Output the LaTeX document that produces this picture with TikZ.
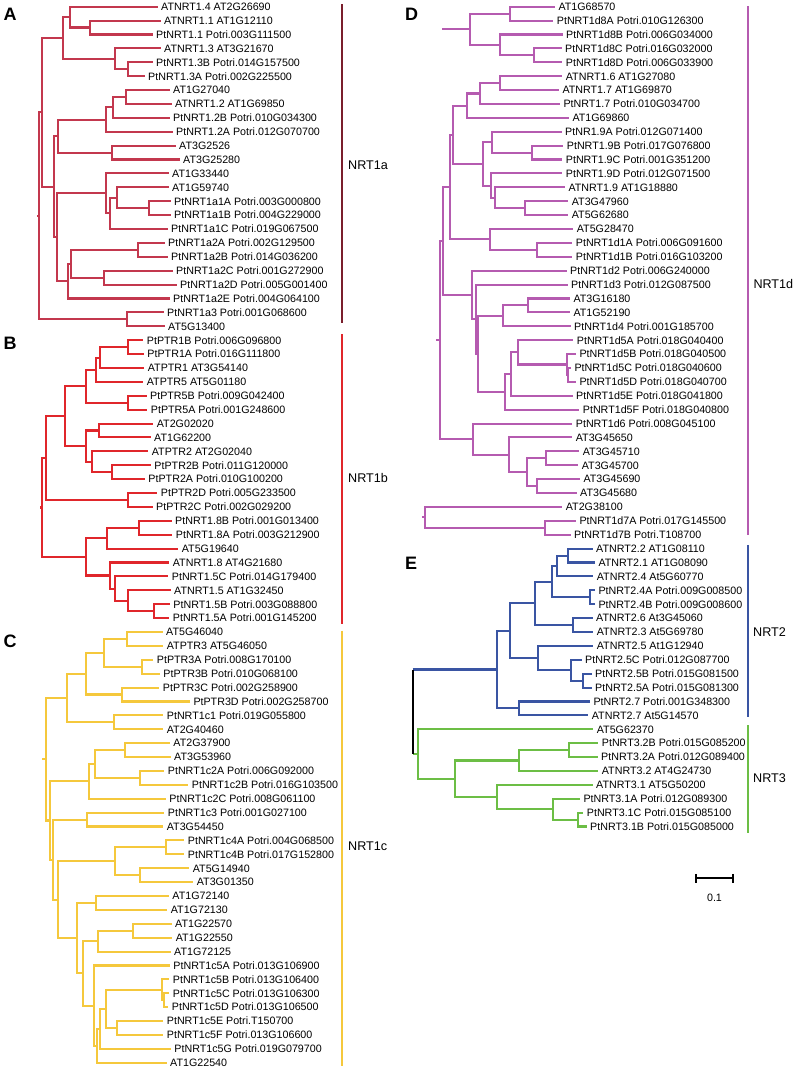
\documentclass[tikz,border=0pt]{standalone}
\usepackage{fontspec}
\setmainfont{Liberation Sans}
\usetikzlibrary{calc}
\definecolor{nrtA}{HTML}{C3384E}
\definecolor{nrtAbar}{HTML}{7A1E2C}
\definecolor{nrtB}{HTML}{E0262B}
\definecolor{nrtC}{HTML}{F5C83C}
\definecolor{nrtD}{HTML}{B55BB0}
\definecolor{nrtTwo}{HTML}{3A55A3}
\definecolor{nrtThree}{HTML}{6CBE45}
% clade: name, x, upper child, lower child
\newcommand\clade[4]{%
  \coordinate (#1) at ($(#3)!0.5!(#4)$);
  \coordinate (#1) at (#2,0 |- #1);
  \draw[branch] (#1) |- (#3) (#1) |- (#4);
}
\begin{document}
\begin{tikzpicture}[x=1bp, y=-13.895bp,
  leaf/.style={anchor=west, inner xsep=3.5bp, inner ysep=0pt, xshift=-3.5bp,
    text height=7.66bp, text depth=0pt, font=\fontsize{10.7bp}{12bp}\selectfont},
  panel/.style={anchor=west, inner sep=0pt, font=\fontsize{18bp}{20bp}\selectfont\bfseries},
  group/.style={anchor=west, inner sep=0pt, font=\fontsize{12.6bp}{14bp}\selectfont},
  bar/.style={line width=2.1bp},
  branch/.style={line width=2.1bp}]
\useasboundingbox (0,0.518) rectangle (797,77.524);

% === A: NRT1a ===
\node[panel] (pA) at (3.5,1.53) {A};
\foreach \px/\lbl [count=\i] in {161/ATNRT1.4 AT2G26690, 164/ATNRT1.1 AT1G12110,
  156/PtNRT1.1 Potri.003G111500, 164/ATNRT1.3 AT3G21670, 156/PtNRT1.3B Potri.014G157500,
  148/PtNRT1.3A Potri.002G225500, 173/AT1G27040, 175/ATNRT1.2 AT1G69850,
  173/PtNRT1.2B Potri.010G034300, 176/PtNRT1.2A Potri.012G070700, 179/AT3G2526,
  183/AT3G25280, 172/AT1G33440, 172/AT1G59740, 174/PtNRT1a1A Potri.003G000800,
  174/PtNRT1a1B Potri.004G229000, 171/PtNRT1a1C Potri.019G067500,
  168/PtNRT1a2A Potri.002G129500, 171/PtNRT1a2B Potri.014G036200,
  176/PtNRT1a2C Potri.001G272900, 180/PtNRT1a2D Potri.005G001400,
  173/PtNRT1a2E Potri.004G064100, 167/PtNRT1a3 Potri.001G068600, 168/AT5G13400}
  \node[leaf] (a\i) at (\px,\i) {\lbl};
\begin{scope}[branch/.style={draw=nrtA, line width=2.1bp}]
\clade{A23}{90}{a2}{a3}
\clade{A13}{70}{a1}{A23}
\clade{A56}{128}{a5}{a6}
\clade{A46}{115}{a4}{A56}
\clade{A16}{63}{A13}{A46}
\clade{A78}{126}{a7}{a8}
\clade{A79}{113}{A78}{a9}
\clade{A710}{106}{A79}{a10}
\clade{A1112}{112}{a11}{a12}
\clade{A712}{58.3}{A710}{A1112}
\clade{A1516}{149}{a15}{a16}
\clade{A1416}{116.7}{a14}{A1516}
\clade{A1417}{110}{A1416}{a17}
\clade{A1317}{106}{a13}{A1417}
\clade{A1819}{138}{a18}{a19}
\clade{A2021}{104}{a20}{a21}
\clade{A1821}{71}{A1819}{A2021}
\clade{A1822}{68}{A1821}{a22}
\clade{A1322}{56.7}{A1317}{A1822}
\clade{A722}{54.3}{A712}{A1322}
\clade{A122}{42}{A16}{A722}
\clade{A2324}{127}{a23}{a24}
\clade{A124}{39.3}{A122}{A2324}
\draw[branch] (A124) -- ++(-2,0);
\end{scope}
\draw[bar, nrtAbar] (341.7,0.806) -- (341.7,23.74);
\node[group] (gA) at (348,12.44) {NRT1a};

% === B: NRT1b ===
\node[panel] (pB) at (3.5,25.2) {B};
\foreach \px/\lbl [count=\i] in {146.7/PtPTR1B Potri.006G096800, 147.3/PtPTR1A Potri.016G111800,
  147.7/ATPTR1 AT3G54140, 146.7/ATPTR5 AT5G01180, 150/PtPTR5B Potri.009G042400,
  150.7/PtPTR5A Potri.001G248600, 156.7/AT2G02020, 154/AT1G62200,
  151.7/ATPTR2 AT2G02040, 154.3/PtPTR2B Potri.011G120000, 148.3/PtPTR2A Potri.010G100200,
  160.7/PtPTR2D Potri.005G233500, 156/PtPTR2C Potri.002G029200,
  175/PtNRT1.8B Potri.001G013400, 175.7/PtNRT1.8A Potri.003G212900, 181.7/AT5G19640,
  172.7/ATNRT1.8 AT4G21680, 171.7/PtNRT1.5C Potri.014G179400, 174/ATNRT1.5 AT1G32450,
  173.3/PtNRT1.5B Potri.003G088800, 172.7/PtNRT1.5A Potri.001G145200}
  \node[leaf] (b\i) at (\px,\i+24) {\lbl};
\begin{scope}[branch/.style={draw=nrtB, line width=2.1bp}]
\clade{B12}{127.7}{b1}{b2}
\clade{B13}{100}{B12}{b3}
\clade{B14}{95.7}{B13}{b4}
\clade{B56}{127.7}{b5}{b6}
\clade{B16}{86}{B14}{B56}
\clade{B78}{99}{b7}{b8}
\clade{B1011}{111.7}{b10}{b11}
\clade{B911}{92.3}{b9}{B1011}
\clade{B711}{86}{B78}{B911}
\clade{B111}{65}{B16}{B711}
\clade{B1213}{127.7}{b12}{b13}
\clade{B113}{46}{B111}{B1213}
\clade{B1415}{139.3}{b14}{b15}
\clade{B1416}{107.3}{B1415}{b16}
\clade{B2021}{154}{b20}{b21}
\clade{B1921}{128.3}{b19}{B2021}
\clade{B1821}{115}{b18}{B1921}
\clade{B1721}{110}{b17}{B1821}
\clade{B1421}{86}{B1416}{B1721}
\clade{B121}{41.7}{B113}{B1421}
\draw[branch] (B121) -- ++(-2,0);
\end{scope}
\draw[bar, nrtB] (341.7,24.58) -- (341.7,45.45);
\node[group] (gB) at (348,34.94) {NRT1b};

% === C: NRT1c ===
\node[panel] (pC) at (3.5,46.7) {C};
\foreach \px/\lbl [count=\i] in {166/AT5G46040, 166.7/ATPTR3 AT5G46050,
  156.7/PtPTR3A Potri.008G170100, 163.3/PtPTR3B Potri.010G068100,
  162.7/PtPTR3C Potri.002G258900, 193.3/PtPTR3D Potri.002G258700,
  166.7/PtNRT1c1 Potri.019G055800, 166.7/AT2G40460, 173.3/AT2G37900, 174/AT3G53960,
  167.7/PtNRT1c2A Potri.006G092000, 191.7/PtNRT1c2B Potri.016G103500,
  169.3/PtNRT1c2C Potri.008G061100, 167.7/PtNRT1c3 Potri.001G027100, 166.7/AT3G54450,
  187.7/PtNRT1c4A Potri.004G068500, 187.7/PtNRT1c4B Potri.017G152800,
  192.7/AT5G14940, 196.7/AT3G01350, 172.3/AT1G72140, 170.7/AT1G72130,
  175/AT1G22570, 175.7/AT1G22550, 174/AT1G72125, 173.3/PtNRT1c5A Potri.013G106900,
  172.7/PtNRT1c5B Potri.013G106400, 172.7/PtNRT1c5C Potri.013G106300,
  171.7/PtNRT1c5D Potri.013G106500, 166.7/PtNRT1c5E Potri.T150700,
  166.7/PtNRT1c5F Potri.013G106600, 174.3/PtNRT1c5G Potri.019G079700, 170/AT1G22540}
  \node[leaf] (c\i) at (\px,\i+45) {\lbl};
\begin{scope}[branch/.style={draw=nrtC, line width=2.1bp}]
\clade{C12}{126.7}{c1}{c2}
\clade{C34}{141.7}{c3}{c4}
\clade{C14}{104.3}{C12}{C34}
\clade{C56}{121.7}{c5}{c6}
\clade{C16}{86}{C14}{C56}
\clade{C78}{114.3}{c7}{c8}
\clade{C18}{66.7}{C16}{C78}
\clade{C910}{125}{c9}{c10}
\clade{C1112}{140}{c11}{c12}
\clade{C912}{95}{C910}{C1112}
\clade{C913}{89}{C912}{c13}
\clade{C1415}{86.7}{c14}{c15}
\clade{C1617}{165.7}{c16}{c17}
\clade{C1819}{140}{c18}{c19}
\clade{C1619}{115}{C1617}{C1819}
\clade{C2021}{96}{c20}{c21}
\clade{C2223}{133.3}{c22}{c23}
\clade{C2224}{98.3}{C2223}{c24}
\clade{C2728}{163.7}{c27}{c28}
\clade{C2628}{162.3}{c26}{C2728}
\clade{C2930}{117.3}{c29}{c30}
\clade{C2630}{106}{C2628}{C2930}
\clade{C2631}{100}{C2630}{c31}
\clade{C2632}{97.3}{C2631}{c32}
\clade{C2532}{94.3}{c25}{C2632}
\clade{C2232}{82.7}{C2224}{C2532}
\clade{C2032}{77.3}{C2021}{C2232}
\clade{C1632}{58.3}{C1619}{C2032}
\clade{C1432}{53.3}{C1415}{C1632}
\clade{C932}{50}{C913}{C1432}
\clade{C132}{46}{C18}{C932}
\draw[branch] (C132) -- ++(-4.3,0);
\end{scope}
\draw[bar, nrtC] (341.7,45.91) -- (341.7,77.2);
\node[group] (gC) at (348,61.45) {NRT1c};

% === D: NRT1d ===
\node[panel] (pD) at (405,1.56) {D};
\foreach \px/\lbl [count=\i] in {558.3/AT1G68570, 556.7/PtNRT1d8A Potri.010G126300,
  566/PtNRT1d8B Potri.006G034000, 565/PtNRT1d8C Potri.016G032000,
  565.7/PtNRT1d8D Potri.006G033900, 565.7/ATNRT1.6 AT1G27080, 562.3/ATNRT1.7 AT1G69870,
  563.3/PtNRT1.7 Potri.010G034700, 572.3/AT1G69860, 565/PtNR1.9A Potri.012G071400,
  566.7/PtNRT1.9B Potri.017G076800, 565.7/PtNRT1.9C Potri.001G351200,
  565.7/PtNRT1.9D Potri.012G071500, 568.3/ATNRT1.9 AT1G18880, 571.7/AT3G47960,
  571.7/AT5G62680, 576.7/AT5G28470, 575.7/PtNRT1d1A Potri.006G091600,
  575.7/PtNRT1d1B Potri.016G103200, 570/PtNRT1d2 Potri.006G240000,
  571/PtNRT1d3 Potri.012G087500, 573.3/AT3G16180, 573.3/AT1G52190,
  574/PtNRT1d4 Potri.001G185700, 576.7/PtNRT1d5A Potri.018G040400,
  579.3/PtNRT1d5B Potri.018G040500, 574.3/PtNRT1d5C Potri.018G040600,
  579.3/PtNRT1d5D Potri.018G040700, 576/PtNRT1d5E Potri.018G041800,
  582.7/PtNRT1d5F Potri.018G040800, 575.7/PtNRT1d6 Potri.008G045100,
  575.7/AT3G45650, 582.7/AT3G45710, 581.7/AT3G45700, 583.3/AT3G45690, 580/AT3G45680,
  565.7/AT2G38100, 579.3/PtNRT1d7A Potri.017G145500, 574/PtNRT1d7B Potri.T108700}
  \node[leaf] (d\i) at (\px,\i) {\lbl};
\begin{scope}[branch/.style={draw=nrtD, line width=2.1bp}]
\clade{D12}{510}{d1}{d2}
\clade{D45}{534}{d4}{d5}
\clade{D35}{500}{d3}{D45}
\clade{D15}{470}{D12}{D35}
\draw[branch] (D15) -- ++(-28.3,0);
\clade{D67}{500}{d6}{d7}
\clade{D68}{480}{D67}{d8}
\clade{D69}{466.7}{D68}{d9}
\clade{D1112}{532.3}{d11}{d12}
\clade{D1012}{491.7}{d10}{D1112}
\clade{D1516}{525}{d15}{d16}
\clade{D1416}{495}{d14}{D1516}
\clade{D1316}{490.7}{d13}{D1416}
\clade{D1016}{482.7}{D1012}{D1316}
\clade{D916}{453.3}{D69}{D1016}
\clade{D1819}{536.7}{d18}{d19}
\clade{D1719}{490}{d17}{D1819}
\clade{D919}{450}{D916}{D1719}
\clade{D2223}{528.3}{d22}{d23}
\clade{D2224}{502.7}{D2223}{d24}
\clade{D2728}{567.7}{d27}{d28}
\clade{D2628}{566.7}{d26}{D2728}
\clade{D2528}{518.3}{d25}{D2628}
\clade{D2529}{510.7}{D2528}{d29}
\clade{D2530}{505}{D2529}{d30}
\clade{D2430}{477.7}{D2224}{D2530}
\clade{D2130}{476}{d21}{D2430}
\clade{D2030}{471.7}{d20}{D2130}
\clade{D930}{443.3}{D919}{D2030}
\clade{D3334}{545.7}{d33}{d34}
\clade{D3536}{536.7}{d35}{d36}
\clade{D3336}{526.7}{D3334}{D3536}
\clade{D3236}{509}{d32}{D3336}
\clade{D3136}{472.7}{d31}{D3236}
\clade{D936}{440}{D930}{D3136}
\draw[branch] (D936) -- ++(-4,0);
\clade{D3839}{545}{d38}{d39}
\clade{D3739}{425}{d37}{D3839}
\draw[branch] (D3739) -- ++(-3.3,0);
\end{scope}
\draw[bar, nrtD] (748.3,0.95) -- (748.3,39.02);
\node[group] (gD) at (753.3,20.96) {NRT1d};

% === E: NRT2 / NRT3 ===
\node[panel] (pE) at (405,41.04) {E};
\foreach \px/\lbl [count=\i] in {596/ATNRT2.2 AT1G08110, 598.3/ATNRT2.1 AT1G08090,
  596.7/ATNRT2.4 At5G60770, 598.3/PtNRT2.4A Potri.009G008500,
  598.3/PtNRT2.4B Potri.009G008600, 596/ATNRT2.6 At3G45060, 596.7/ATNRT2.3 At5G69780,
  596.7/ATNRT2.5 At1G12940, 585/PtNRT2.5C Potri.012G087700,
  595/PtNRT2.5B Potri.015G081500, 595/PtNRT2.5A Potri.015G081300,
  593.3/PtNRT2.7 Potri.001G348300, 591.7/ATNRT2.7 At5G14570, 596.7/AT5G62370,
  601.7/PtNRT3.2B Potri.015G085200, 601/PtNRT3.2A Potri.012G089400,
  601.7/ATNRT3.2 AT4G24730, 596/ATNRT3.1 AT5G50200, 583.3/PtNRT3.1A Potri.012G089300,
  586.7/PtNRT3.1C Potri.015G085100, 590/PtNRT3.1B Potri.015G085000}
  \node[leaf] (e\i) at (\px,\i+39) {\lbl};
\begin{scope}[branch/.style={draw=nrtTwo, line width=2.1bp}]
\clade{E12}{568.3}{e1}{e2}
\clade{E13}{556.7}{E12}{e3}
\clade{E45}{590}{e4}{e5}
\clade{E15}{552.3}{E13}{E45}
\clade{E67}{573.3}{e6}{e7}
\clade{E17}{535}{E15}{E67}
\clade{E1011}{582.7}{e10}{e11}
\clade{E911}{571}{e9}{E1011}
\clade{E811}{538.3}{e8}{E911}
\clade{E111}{510}{E17}{E811}
\clade{E1213}{519}{e12}{e13}
\clade{E113}{496.7}{E111}{E1213}
\coordinate (Etop) at (412.7,0 |- E113);
\draw[branch] (Etop) -- (E113);
\end{scope}
\begin{scope}[branch/.style={draw=nrtThree, line width=2.1bp}]
\clade{E1516}{569.3}{e15}{e16}
\clade{E1517}{519.3}{E1516}{e17}
\clade{E2021}{577.7}{e20}{e21}
\clade{E1921}{553.3}{e19}{E2021}
\clade{E1821}{496.7}{e18}{E1921}
\clade{E1521}{455}{E1517}{E1821}
\clade{E1421}{418.3}{e14}{E1521}
\coordinate (Ebot) at (412.7,0 |- E1421);
\draw[branch] (Ebot) -- (E1421);
\end{scope}
\draw[line width=2.1bp] (Etop) -- (Ebot);
\draw[bar, nrtTwo] (747.7,39.74) -- (747.7,52.1);
\node[group] (gE2) at (753,46.02) {NRT2};
\draw[bar, nrtThree] (747.7,52.7) -- (747.7,60.49);
\node[group] (gE3) at (753,56.53) {NRT3};

% scale bar
\draw[line width=1.8bp] (695.7,63.4) -- (695.7,64.07) (695.7,63.73) -- (733.3,63.73)
  (733.3,63.4) -- (733.3,64.07);
\node[font=\fontsize{10.7bp}{12bp}\selectfont] (sc) at (714.5,65.1) {0.1};
\end{tikzpicture}
\end{document}
